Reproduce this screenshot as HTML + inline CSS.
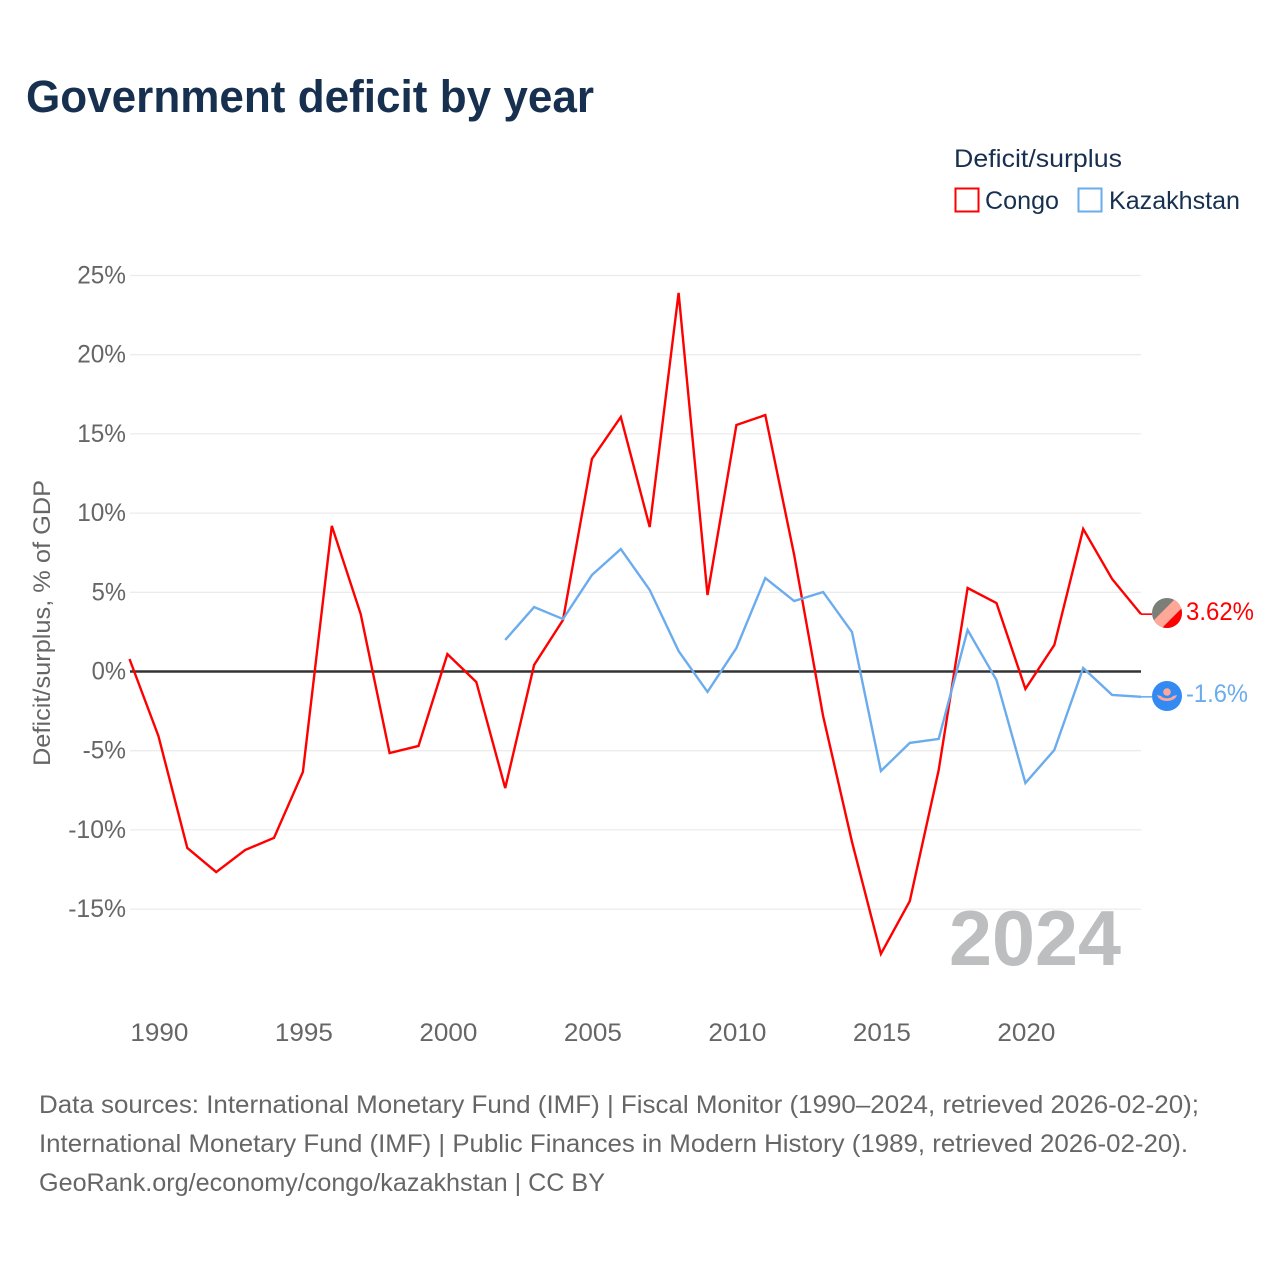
<!DOCTYPE html>
<html lang="en">
<head>
<meta charset="utf-8">
<title>Government deficit by year</title>
<style>
html,body{margin:0;padding:0;background:#fff;}
svg{display:block;}
text{font-family:"Liberation Sans",sans-serif;}
</style>
</head>
<body>
<svg id="chart" xmlns="http://www.w3.org/2000/svg" width="1280" height="1280" viewBox="0 0 1280 1280">
  <rect x="0" y="0" width="1280" height="1280" fill="#ffffff"/>
  <text x="26" y="112" font-size="45" font-weight="700" fill="#17304f" textLength="568" lengthAdjust="spacingAndGlyphs">Government deficit by year</text>

  <text x="954" y="167" font-size="25" fill="#17304f" textLength="168" lengthAdjust="spacingAndGlyphs">Deficit/surplus</text>
  <rect x="955.5" y="188.5" width="23" height="23" fill="none" stroke="#ff0000" stroke-width="2"/>
  <text x="985" y="209" font-size="25" fill="#17304f" textLength="74" lengthAdjust="spacingAndGlyphs">Congo</text>
  <rect x="1078.5" y="188.5" width="23" height="23" fill="none" stroke="#6aaced" stroke-width="2"/>
  <text x="1109" y="209" font-size="25" fill="#17304f" textLength="131" lengthAdjust="spacingAndGlyphs">Kazakhstan</text>

  <g id="grid"></g>
  <g id="yticks"></g>
  <g id="xticks"></g>

  <text transform="translate(50,766) rotate(-90)" x="0" y="0" font-size="24" fill="#666666" textLength="286" lengthAdjust="spacingAndGlyphs">Deficit/surplus, % of GDP</text>

  <text x="949" y="965" font-size="78" font-weight="700" fill="#bcbec0" textLength="172" lengthAdjust="spacingAndGlyphs">2024</text>

  <g id="series"></g>

  <g>
    <clipPath id="cg"><circle cx="1167" cy="613" r="15"/></clipPath>
    <g clip-path="url(#cg)">
      <rect x="1150" y="596" width="34" height="34" fill="#7b7f78"/>
      <polygon points="1150,624 1178,596 1186,604 1158,632" fill="#ffa898"/>
      <polygon points="1158,632 1186,604 1186,632" fill="#ff0000"/>
    </g>
  </g>
  <g>
    <circle cx="1167" cy="696" r="15" fill="#338af3"/>
    <circle cx="1167" cy="692" r="3.8" fill="#ffa898"/>
    <path d="M1157 695 L1161 696 C1163 699 1171 699 1173 696 L1177 695 C1175 703 1159 703 1157 695 Z" fill="#ffa898"/>
  </g>
  <text x="1186" y="620" font-size="25" fill="#ff0000" textLength="68" lengthAdjust="spacingAndGlyphs">3.62%</text>
  <text x="1186" y="702" font-size="25" fill="#6aaced" textLength="62" lengthAdjust="spacingAndGlyphs">-1.6%</text>

  <g>
    <text x="39" y="1113" font-size="25" fill="#666666" textLength="1160" lengthAdjust="spacingAndGlyphs">Data sources: International Monetary Fund (IMF) | Fiscal Monitor (1990–2024, retrieved 2026-02-20);</text>
    <text x="39" y="1152" font-size="25" fill="#666666" textLength="1149" lengthAdjust="spacingAndGlyphs">International Monetary Fund (IMF) | Public Finances in Modern History (1989, retrieved 2026-02-20).</text>
    <text x="39" y="1191" font-size="25" fill="#666666" textLength="566" lengthAdjust="spacingAndGlyphs">GeoRank.org/economy/congo/kazakhstan | CC BY</text>
  </g>
</svg>
<script>
var congoYears = [1989,1990,1991,1992,1993,1994,1995,1996,1997,1998,1999,2000,2001,2002,2003,2004,2005,2006,2007,2008,2009,2010,2011,2012,2013,2014,2015,2016,2017,2018,2019,2020,2021,2022,2023,2024];
var congoValues = [0.79,-4.07,-11.14,-12.66,-11.27,-10.5,-6.34,9.19,3.63,-5.15,-4.7,1.1,-0.66,-7.36,0.41,3.25,13.42,16.07,9.12,23.9,4.83,15.56,16.19,7.35,-2.81,-10.76,-17.83,-14.49,-6.22,5.27,4.32,-1.1,1.67,9.0,5.84,3.62];
var kazakhstanYears = [2002,2003,2004,2005,2006,2007,2008,2009,2010,2011,2012,2013,2014,2015,2016,2017,2018,2019,2020,2021,2022,2023,2024];
var kazakhstanValues = [1.99,4.07,3.31,6.09,7.73,5.15,1.29,-1.29,1.48,5.9,4.45,5.02,2.49,-6.28,-4.51,-4.26,2.62,-0.54,-7.04,-4.96,0.22,-1.48,-1.6];
var yTickValues = [25,20,15,10,5,0,-5,-10,-15];
var xTickValues = [1990,1995,2000,2005,2010,2015,2020];

function xScale(year){ return 129.5 + (year - 1989) * 28.9; }
function yScale(value){ return 671.5 - value * 15.84; }

var NS = 'http://www.w3.org/2000/svg';
function make(tag, parent){
  var el = document.createElementNS(NS, tag);
  parent.appendChild(el);
  return el;
}
var grid = document.getElementById('grid');
var yticks = document.getElementById('yticks');
var xticks = document.getElementById('xticks');
var seriesGroup = document.getElementById('series');

yTickValues.forEach(function(v){
  if (v !== 0) {
    var line = make('line', grid);
    
    
    line.setAttribute('x1', 130);
    line.setAttribute('x2', 1141);
    line.setAttribute('y1', yScale(v));
    line.setAttribute('y2', yScale(v));
    line.setAttribute('stroke', '#ececec');
    line.setAttribute('stroke-width', 1.3);
  }
  var label = v + '%';
  var t = make('text', yticks);
  
  
  var w = (String(Math.abs(v)).length * 14.4) + 20 + (v < 0 ? 9 : 0);
  t.setAttribute('x', 126 - w);
  t.setAttribute('y', yScale(v) + 8);
  t.setAttribute('font-size', 25);
  t.setAttribute('fill', '#666666');
  t.setAttribute('textLength', w);
  t.setAttribute('lengthAdjust', 'spacingAndGlyphs');
  t.textContent = label;
});

xTickValues.forEach(function(year){
  var t = make('text', xticks);
  
  
  t.setAttribute('x', xScale(year) - 28);
  t.setAttribute('y', 1041);
  t.setAttribute('font-size', 25);
  t.setAttribute('fill', '#666666');
  t.setAttribute('textLength', 58);
  t.setAttribute('lengthAdjust', 'spacingAndGlyphs');
  t.textContent = year;
});

var zero = make('line', grid);


zero.setAttribute('x1', 130);
zero.setAttribute('x2', 1141);
zero.setAttribute('y1', yScale(0));
zero.setAttribute('y2', yScale(0));
zero.setAttribute('stroke', '#333333');
zero.setAttribute('stroke-width', 2.4);

function pointsFor(years, values){
  return years.map(function(y, i){
    return xScale(y).toFixed(2) + ',' + yScale(values[i]).toFixed(2);
  });
}

var congoPts = pointsFor(congoYears, congoValues);
var congoLine = make('polyline', seriesGroup);


congoLine.setAttribute('points', congoPts.join(' '));
congoLine.setAttribute('fill', 'none');
congoLine.setAttribute('stroke', '#ff0000');
congoLine.setAttribute('stroke-width', 2.4);
congoLine.setAttribute('stroke-linejoin', 'miter');

var congoLead = make('line', seriesGroup);


congoLead.setAttribute('x1', xScale(2024));
congoLead.setAttribute('x2', 1152);
congoLead.setAttribute('y1', yScale(congoValues[congoValues.length - 1]));
congoLead.setAttribute('y2', yScale(congoValues[congoValues.length - 1]));
congoLead.setAttribute('stroke', '#ff0000');
congoLead.setAttribute('stroke-width', 1.6);

var kazPts = pointsFor(kazakhstanYears, kazakhstanValues);
var kazLine = make('polyline', seriesGroup);


kazLine.setAttribute('points', kazPts.join(' '));
kazLine.setAttribute('fill', 'none');
kazLine.setAttribute('stroke', '#6aaced');
kazLine.setAttribute('stroke-width', 2.4);
kazLine.setAttribute('stroke-linejoin', 'miter');

var kazLead = make('line', seriesGroup);


kazLead.setAttribute('x1', xScale(2024));
kazLead.setAttribute('x2', 1152);
kazLead.setAttribute('y1', yScale(kazakhstanValues[kazakhstanValues.length - 1]));
kazLead.setAttribute('y2', yScale(kazakhstanValues[kazakhstanValues.length - 1]));
kazLead.setAttribute('stroke', '#6aaced');
kazLead.setAttribute('stroke-width', 1.6);
</script>
</body>
</html>
